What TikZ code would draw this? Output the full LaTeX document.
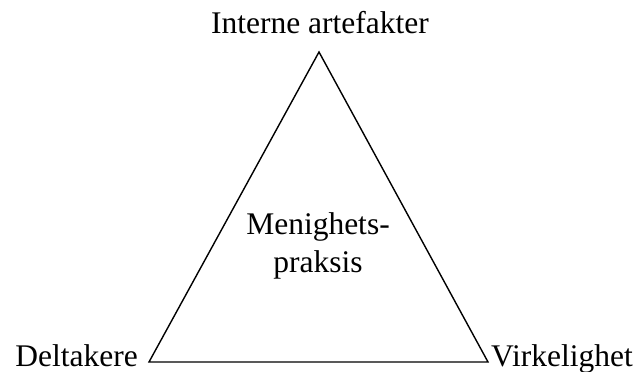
\documentclass[tikz,border=0pt]{standalone}
\usepackage{fontspec}
\setmainfont{Liberation Serif}
\usetikzlibrary{positioning}

\begin{document}
\begin{tikzpicture}[x=1pt, y=-1pt, every node/.style={inner sep=0pt, font=\fontsize{31.5}{38}\selectfont}]
\useasboundingbox (0,0) rectangle (638,372);
\coordinate (top) at (319,52); \coordinate (left) at (149,362); \coordinate (right) at (488,362);
\draw[line width=1.4pt, line join=miter] (top) -- (left) -- (right) -- cycle;
\node (intern) [anchor=base] at (320,33) {Interne artefakter};
\node (delt) [anchor=base east] at (138,366) {Deltakere};
\node (virk) [anchor=base west] at (491,366) {Virkelighet};
\node (menig) [anchor=base] at (318,234) {Menighets-};
\node (praks) [anchor=base] at (318,272) {praksis};
\end{tikzpicture}
\end{document}
